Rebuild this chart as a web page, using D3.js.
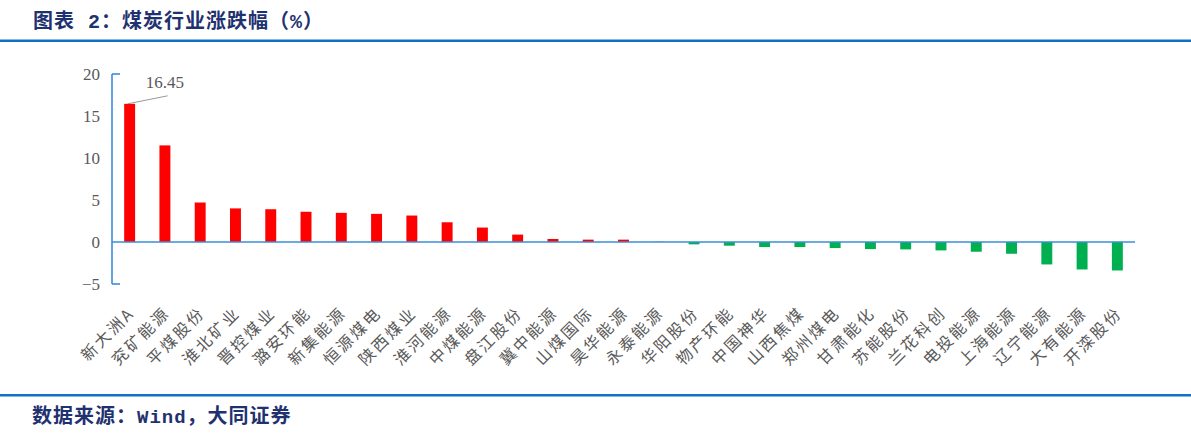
<!DOCTYPE html>
<meta charset="utf-8">
<style>
body { margin: 0; background: #fff; }
.tick-label { font: 17px "Liberation Serif", serif; fill: #595959; }
.cat-label { font: 16px "Noto Sans CJK SC", sans-serif; fill: #595959; letter-spacing: 2.5px; }
.head { font-family: "Liberation Mono", "Noto Sans CJK SC", monospace; fill: #1f3270; }
</style>
<svg id="chart" width="1191" height="438"></svg>
<script src="https://cdn.jsdelivr.net/npm/d3@7/dist/d3.min.js"></script>
<script>
// 煤炭行业涨跌幅（%）
const names = ["新大洲A", "兖矿能源", "平煤股份", "淮北矿业", "晋控煤业", "潞安环能", "新集能源",
  "恒源煤电", "陕西煤业", "淮河能源", "中煤能源", "盘江股份", "冀中能源", "山煤国际", "昊华能源",
  "永泰能源", "华阳股份", "物产环能", "中国神华", "山西焦煤", "郑州煤电", "甘肃能化", "苏能股份",
  "兰花科创", "电投能源", "上海能源", "辽宁能源", "大有能源", "开滦股份"];
const changes = [16.45, 11.5, 4.7, 4.0, 3.9, 3.6, 3.47,
  3.35, 3.15, 2.35, 1.72, 0.88, 0.36, 0.28, 0.28,
  0.02, -0.28, -0.44, -0.6, -0.6, -0.72, -0.84, -0.88,
  -1.0, -1.16, -1.4, -2.67, -3.27, -3.39];
const yTicks = [-5, 0, 5, 10, 15, 20];

const svg = d3.select("#chart");

// header / footer
svg.append("text").attr("class", "head").attr("x", 33).attr("y", 28)
  .style("font-size", "20px").style("font-weight", 600).style("letter-spacing", "1px")
  .text("图表 2：煤炭行业涨跌幅（%）");
svg.append("rect").attr("x", 0).attr("y", 39.5).attr("width", 1191).attr("height", 2.5).attr("fill", "#1170c4");
svg.append("rect").attr("x", 0).attr("y", 394).attr("width", 1191).attr("height", 2.5).attr("fill", "#1170c4");
const src = svg.append("text").attr("class", "head").attr("x", 32).attr("y", 423)
  .style("font-size", "20px").style("font-weight", 600).style("letter-spacing", "1px");
src.append("tspan").text("数据来源：");
src.append("tspan").style("font-size", "19px").text("Wind");
src.append("tspan").text("，大同证券");

const x = d3.scaleBand().domain(names).range([112, 1135]).paddingInner(0.69).paddingOuter(0.345);
const y = d3.scaleLinear().domain([-5, 20]).range([284, 74]);

// bars
svg.append("g").selectAll("rect").data(names).join("rect")
  .attr("x", d => x(d))
  .attr("width", x.bandwidth())
  .attr("y", (d, i) => y(Math.max(0, changes[i])))
  .attr("height", (d, i) => Math.abs(y(changes[i]) - y(0)))
  .attr("fill", (d, i) => changes[i] >= 0 ? "#ff0000" : "#00b050");

// y axis
const yAxis = svg.append("g");
yAxis.append("line").attr("x1", 112).attr("x2", 112).attr("y1", y(20)).attr("y2", y(-5))
  .attr("stroke", "#2f86d6").attr("stroke-width", 1.5);
[20, -5].forEach(v => yAxis.append("line").attr("x1", 112).attr("x2", 120)
  .attr("y1", y(v)).attr("y2", y(v)).attr("stroke", "#2f86d6").attr("stroke-width", 1.5));
yAxis.selectAll("text").data(yTicks).join("text")
  .attr("class", "tick-label")
  .attr("x", 100).attr("y", d => y(d)).attr("dy", "0.35em")
  .attr("text-anchor", "end")
  .text(d => d < 0 ? "\u2212" + Math.abs(d) : d);

// zero line
svg.append("line").attr("x1", 112).attr("x2", 1135).attr("y1", y(0)).attr("y2", y(0))
  .attr("stroke", "#3b8ed8").attr("stroke-width", 1.5);

// category labels
svg.append("g").selectAll("text").data(names).join("text")
  .attr("class", "cat-label")
  .attr("text-anchor", "end")
  .attr("transform", d => `translate(${x(d) + x.bandwidth() / 2 + 6},${314}) rotate(-45)`)
  .text(d => d);

// max label with leader line
const maxX = x(names[0]) + x.bandwidth() / 2;
svg.append("line").attr("x1", maxX - 2).attr("y1", y(changes[0])).attr("x2", maxX + 38).attr("y2", y(changes[0]) - 8)
  .attr("stroke", "#999").attr("stroke-width", 1);
svg.append("text").attr("class", "tick-label")
  .attr("x", maxX + 16).attr("y", 88)
  .text(d3.format(".2f")(changes[0]));
</script>
